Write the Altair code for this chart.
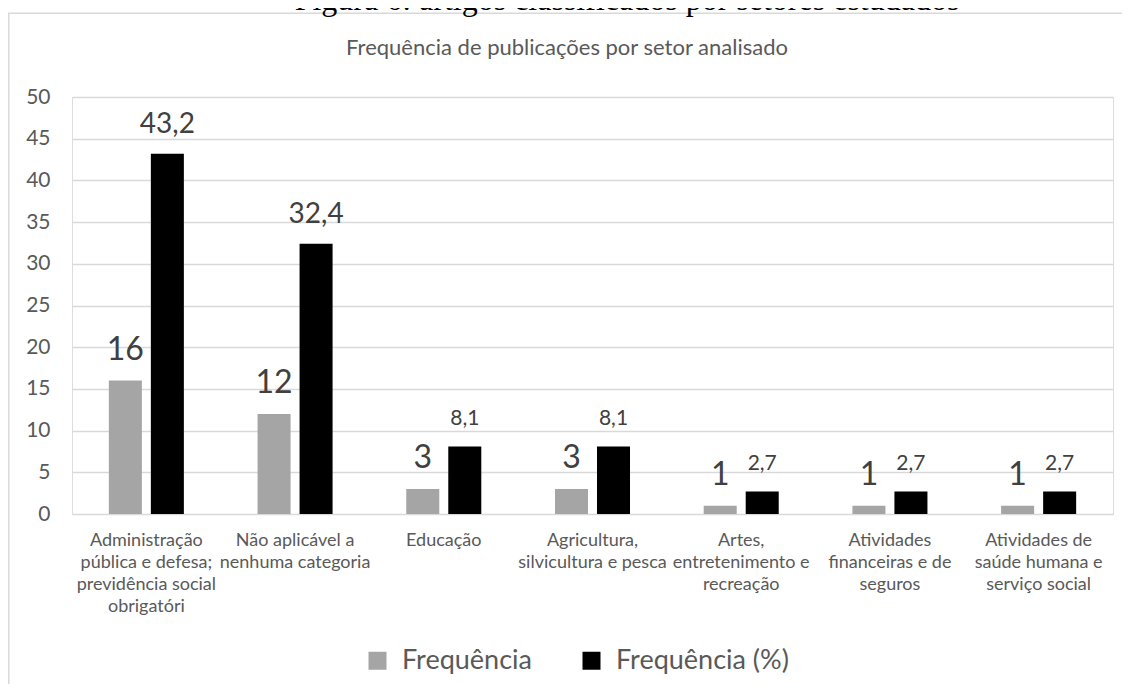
import altair as alt
import pandas as pd

# ---- data ----
categorias = [
    "Administração\npública e defesa;\nprevidência social\nobrigatóri",
    "Não aplicável a\nnenhuma categoria",
    "Educação",
    "Agricultura,\nsilvicultura e pesca",
    "Artes,\nentretenimento e\nrecreação",
    "Atividades\nfinanceiras e de\nseguros",
    "Atividades de\nsaúde humana e\nserviço social",
]
frequencia = [16, 12, 3, 3, 1, 1, 1]
frequencia_pct = [43.2, 32.4, 8.1, 8.1, 2.7, 2.7, 2.7]
series = ["Frequência", "Frequência (%)"]
y_ticks = [0, 5, 10, 15, 20, 25, 30, 35, 40, 45, 50]

titulo = "Frequência de publicações por setor analisado"
legenda_figura = "Figura 6: artigos classificados por setores estudados"

rows = []
for c, a, b in zip(categorias, frequencia, frequencia_pct):
    rows.append({"setor": c, "serie": series[0], "valor": a})
    rows.append({"setor": c, "serie": series[1], "valor": b})
df = pd.DataFrame(rows)
df["rotulo"] = df["valor"].map(lambda v: f"{v:g}".replace(".", ","))

one = pd.DataFrame({"k": [0]})

FONT = "Lato"
AXIS_COLOR = "#595959"
GRID = "#d9d9d9"

x_enc = alt.X(
    "setor:N",
    sort=categorias,
    scale=alt.Scale(paddingInner=0, paddingOuter=0),
    axis=alt.Axis(
        title=None,
        labelAngle=0,
        labelExpr="split(datum.label, '\\n')",
        labelFontSize=18,
        labelLineHeight=22,
        labelColor=AXIS_COLOR,
        labelFont=FONT,
        ticks=False,
        domain=False,
        labelPadding=17,
        labelBaseline="top",
        labelOverlap=False,
        labelLimit=400,
    ),
)
xo_enc = alt.XOffset(
    "serie:N",
    sort=series,
    scale=alt.Scale(paddingInner=0.214, paddingOuter=0.877),
)
y_enc = alt.Y(
    "valor:Q",
    scale=alt.Scale(domain=[0, 50], nice=False),
    axis=alt.Axis(
        title=None,
        values=y_ticks,
        labelFontSize=21,
        labelColor=AXIS_COLOR,
        labelFont=FONT,
        ticks=False,
        domain=False,
        labelPadding=22,
        gridColor=GRID,
        gridWidth=1.5,
    ),
)
color_enc = alt.Color(
    "serie:N",
    sort=series,
    scale=alt.Scale(domain=series, range=["#a5a5a5", "#000000"]),
    legend=alt.Legend(
        title=None,
        orient="none",
        legendX=292,
        legendY=550,
        direction="horizontal",
        symbolType="square",
        symbolSize=324,
        symbolStrokeWidth=0,
        symbolOpacity=1,
        labelFontSize=27,
        labelFont=FONT,
        labelColor=AXIS_COLOR,
        labelOffset=11,
        labelLimit=400,
        columnPadding=46,
    ),
)

base = alt.Chart(df)

bars = base.mark_bar().encode(x=x_enc, xOffset=xo_enc, y=y_enc, color=color_enc)

label_size = (
    alt.when(alt.datum.serie == series[0])
    .then(alt.value(32))
    .when(alt.datum.valor > 20)
    .then(alt.value(28))
    .otherwise(alt.value(21))
)
labels = base.mark_text(
    baseline="alphabetic", dy=-21, font=FONT, color="#404040"
).encode(
    x=alt.X("setor:N", sort=categorias),
    xOffset=alt.XOffset("serie:N", sort=series),
    y=alt.Y("valor:Q"),
    text="rotulo:N",
    size=label_size,
)

title_txt = alt.Chart(one).mark_text(
    text=titulo, font=FONT, fontSize=22, color=AXIS_COLOR,
    align="center", baseline="alphabetic",
).encode(x=alt.value(495), y=alt.value(-42))

caption = alt.Chart(one).mark_text(
    text=legenda_figura, font="Liberation Serif", fontSize=32, color="#000000",
    align="center", baseline="alphabetic",
).encode(x=alt.value(555), y=alt.value(-87))

border_left = alt.Chart(one).mark_rule(color=GRID, strokeWidth=1.5).encode(
    x=alt.value(-63.2), y=alt.value(-83.7), y2=alt.value(700)
)
border_top = alt.Chart(one).mark_rule(color=GRID, strokeWidth=1.5).encode(
    x=alt.value(-64), x2=alt.value(1100), y=alt.value(-83.7)
)

chart = alt.layer(
    border_left, border_top, caption, title_txt, bars, labels
).properties(
    width=1041,
    height=417,
    autosize=alt.AutoSizeParams(type="none"),
    padding={"left": 64, "top": 89, "right": 9, "bottom": 170},
).configure_view(
    stroke=None
).configure(
    background="white"
)

chart.save("out.html", embed_options={"renderer": "svg", "actions": False})
